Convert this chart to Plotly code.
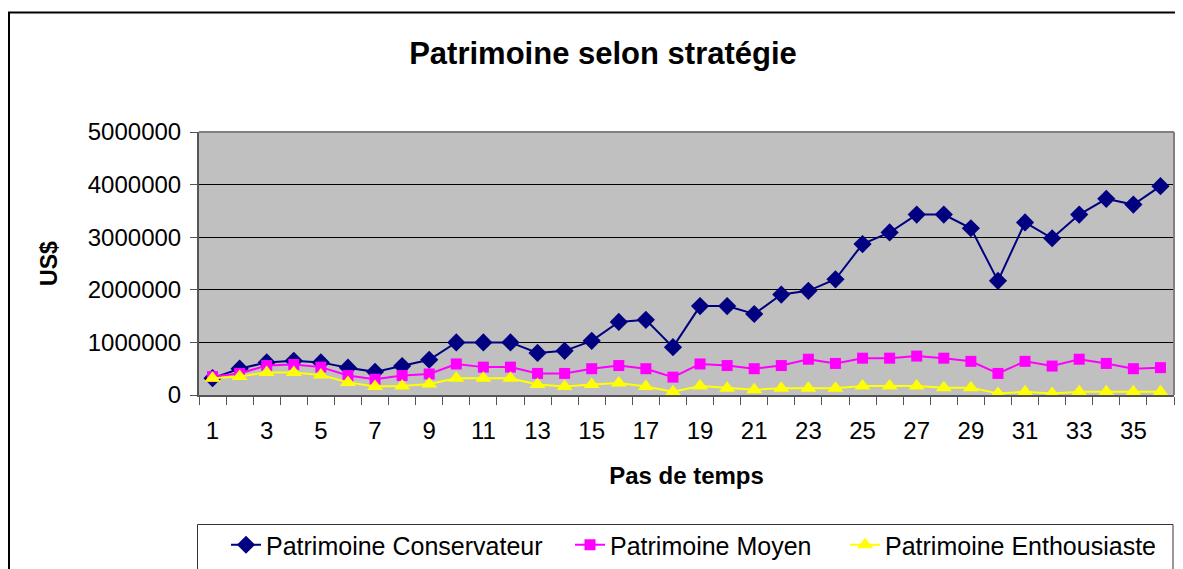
import plotly.graph_objects as go

steps = list(range(1, 37))
conservateur = [320000, 500000, 620000, 650000, 620000, 520000, 440000, 550000, 670000, 1000000,
                1000000, 1000000, 800000, 840000, 1030000, 1390000, 1430000, 910000, 1690000, 1690000,
                1540000, 1910000, 1980000, 2200000, 2870000, 3090000, 3430000, 3430000, 3170000, 2170000,
                3280000, 2980000, 3430000, 3730000, 3620000, 3970000]
moyen = [350000, 410000, 560000, 580000, 530000, 370000, 300000, 370000, 400000, 590000,
         530000, 530000, 410000, 410000, 500000, 560000, 500000, 340000, 590000, 560000,
         500000, 560000, 680000, 600000, 700000, 700000, 740000, 700000, 640000, 410000,
         640000, 550000, 680000, 600000, 500000, 520000]
enthousiaste = [320000, 350000, 430000, 430000, 380000, 240000, 160000, 170000, 210000, 320000,
                320000, 320000, 200000, 160000, 200000, 230000, 160000, 60000, 170000, 130000,
                100000, 130000, 130000, 130000, 170000, 170000, 170000, 140000, 140000, 30000,
                60000, 30000, 60000, 60000, 60000, 60000]
x_tick_labels = [str(v) for v in range(1, 37, 2)]
y_tick_vals = [0, 1000000, 2000000, 3000000, 4000000, 5000000]

FONT = "Liberation Sans, Arial, sans-serif"

fig = go.Figure()
fig.add_trace(go.Scatter(x=steps, y=conservateur, name="Patrimoine Conservateur",
                         mode="lines+markers", line=dict(color="#000080", width=2),
                         marker=dict(symbol="diamond", size=14, color="#000080"), legend="legend"))
fig.add_trace(go.Scatter(x=steps, y=moyen, name="Patrimoine Moyen",
                         mode="lines+markers", line=dict(color="#FF00FF", width=2),
                         marker=dict(symbol="square", size=11, color="#FF00FF"), legend="legend2"))
fig.add_trace(go.Scatter(x=steps, y=enthousiaste, name="Patrimoine Enthousiaste",
                         mode="lines+markers", line=dict(color="#FFFF00", width=2),
                         marker=dict(symbol="triangle-up", size=14, color="#FFFF00"), legend="legend3"))

OFF = 8  # page body margin
# target positions in window pixels
L, R, T, B = 199, 1174, 132, 395
W, H = 1183 - OFF, 569 - OFF

def px_x(p):
    return (p - L) / (R - L)

def px_y(p):
    return (B - p) / (B - T)

def cx(p):
    return (p - OFF) / W

def cy(p):
    return 1 - (p - OFF) / H

def legend_at(text_start):
    return dict(orientation="h", x=cx(text_start - 42), xref="container", xanchor="left",
                y=cy(545), yref="container", yanchor="middle",
                font=dict(size=25, family=FONT), bgcolor="rgba(0,0,0,0)", borderwidth=0)

fig.update_layout(
    width=W, height=H,
    margin=dict(l=L - OFF, r=W - (R - OFF), t=T - OFF, b=H - (B - OFF)),
    paper_bgcolor="white", plot_bgcolor="#C0C0C0",
    font=dict(family=FONT, color="black"),
    title=dict(text="<b>Patrimoine selon stratégie</b>", x=cx(603), xanchor="center",
               y=cy(53), yanchor="middle", font=dict(size=31, family=FONT)),
    showlegend=True,
    legend=legend_at(268),
    legend2=legend_at(612),
    legend3=legend_at(887),
    xaxis=dict(range=[0.5, 36.5], tickmode="array", tickvals=list(range(1, 37, 2)),
               ticktext=x_tick_labels, ticks="", showgrid=False, zeroline=False,
               showline=True, linecolor="#555555", linewidth=2,
               ticklabelstandoff=13, tickfont=dict(size=24, family=FONT),
               minor=dict(tickmode="linear", tick0=0.5, dtick=1, ticks="outside",
                          ticklen=8, tickcolor="#555555", tickwidth=1, showgrid=False),
               title=dict(text="<b>Pas de temps</b>", font=dict(size=24, family=FONT), standoff=24)),
    yaxis=dict(range=[0, 5000000], tickmode="array", tickvals=y_tick_vals,
               ticktext=[str(v) for v in y_tick_vals], ticks="outside", ticklen=7,
               tickcolor="#555555", showgrid=True, gridcolor="black", gridwidth=1,
               zeroline=False, showline=True, linecolor="#555555", linewidth=2,
               tickfont=dict(size=24, family=FONT), ticklabelstandoff=4,
               title=dict(text="<b>US$</b>", font=dict(size=23, family=FONT), standoff=24)),
)

# plot area top/right border
fig.add_shape(type="line", xref="paper", yref="paper", x0=0, x1=1, y0=1, y1=1,
              line=dict(color="#808080", width=2))
fig.add_shape(type="line", xref="paper", yref="paper", x0=1, x1=1, y0=0, y1=1,
              line=dict(color="#808080", width=2))
# outer chart border (clipped right and bottom)
fig.add_shape(type="rect", xref="paper", yref="paper", x0=px_x(9), x1=px_x(1200),
              y0=px_y(600), y1=px_y(12.5), line=dict(color="black", width=2), layer="below")
# legend box
fig.add_shape(type="rect", xref="paper", yref="paper", x0=px_x(197.5), x1=px_x(1173),
              y0=px_y(590), y1=px_y(524.5), line=dict(color="#333333", width=1), layer="below")

fig.write_html("out.html")
